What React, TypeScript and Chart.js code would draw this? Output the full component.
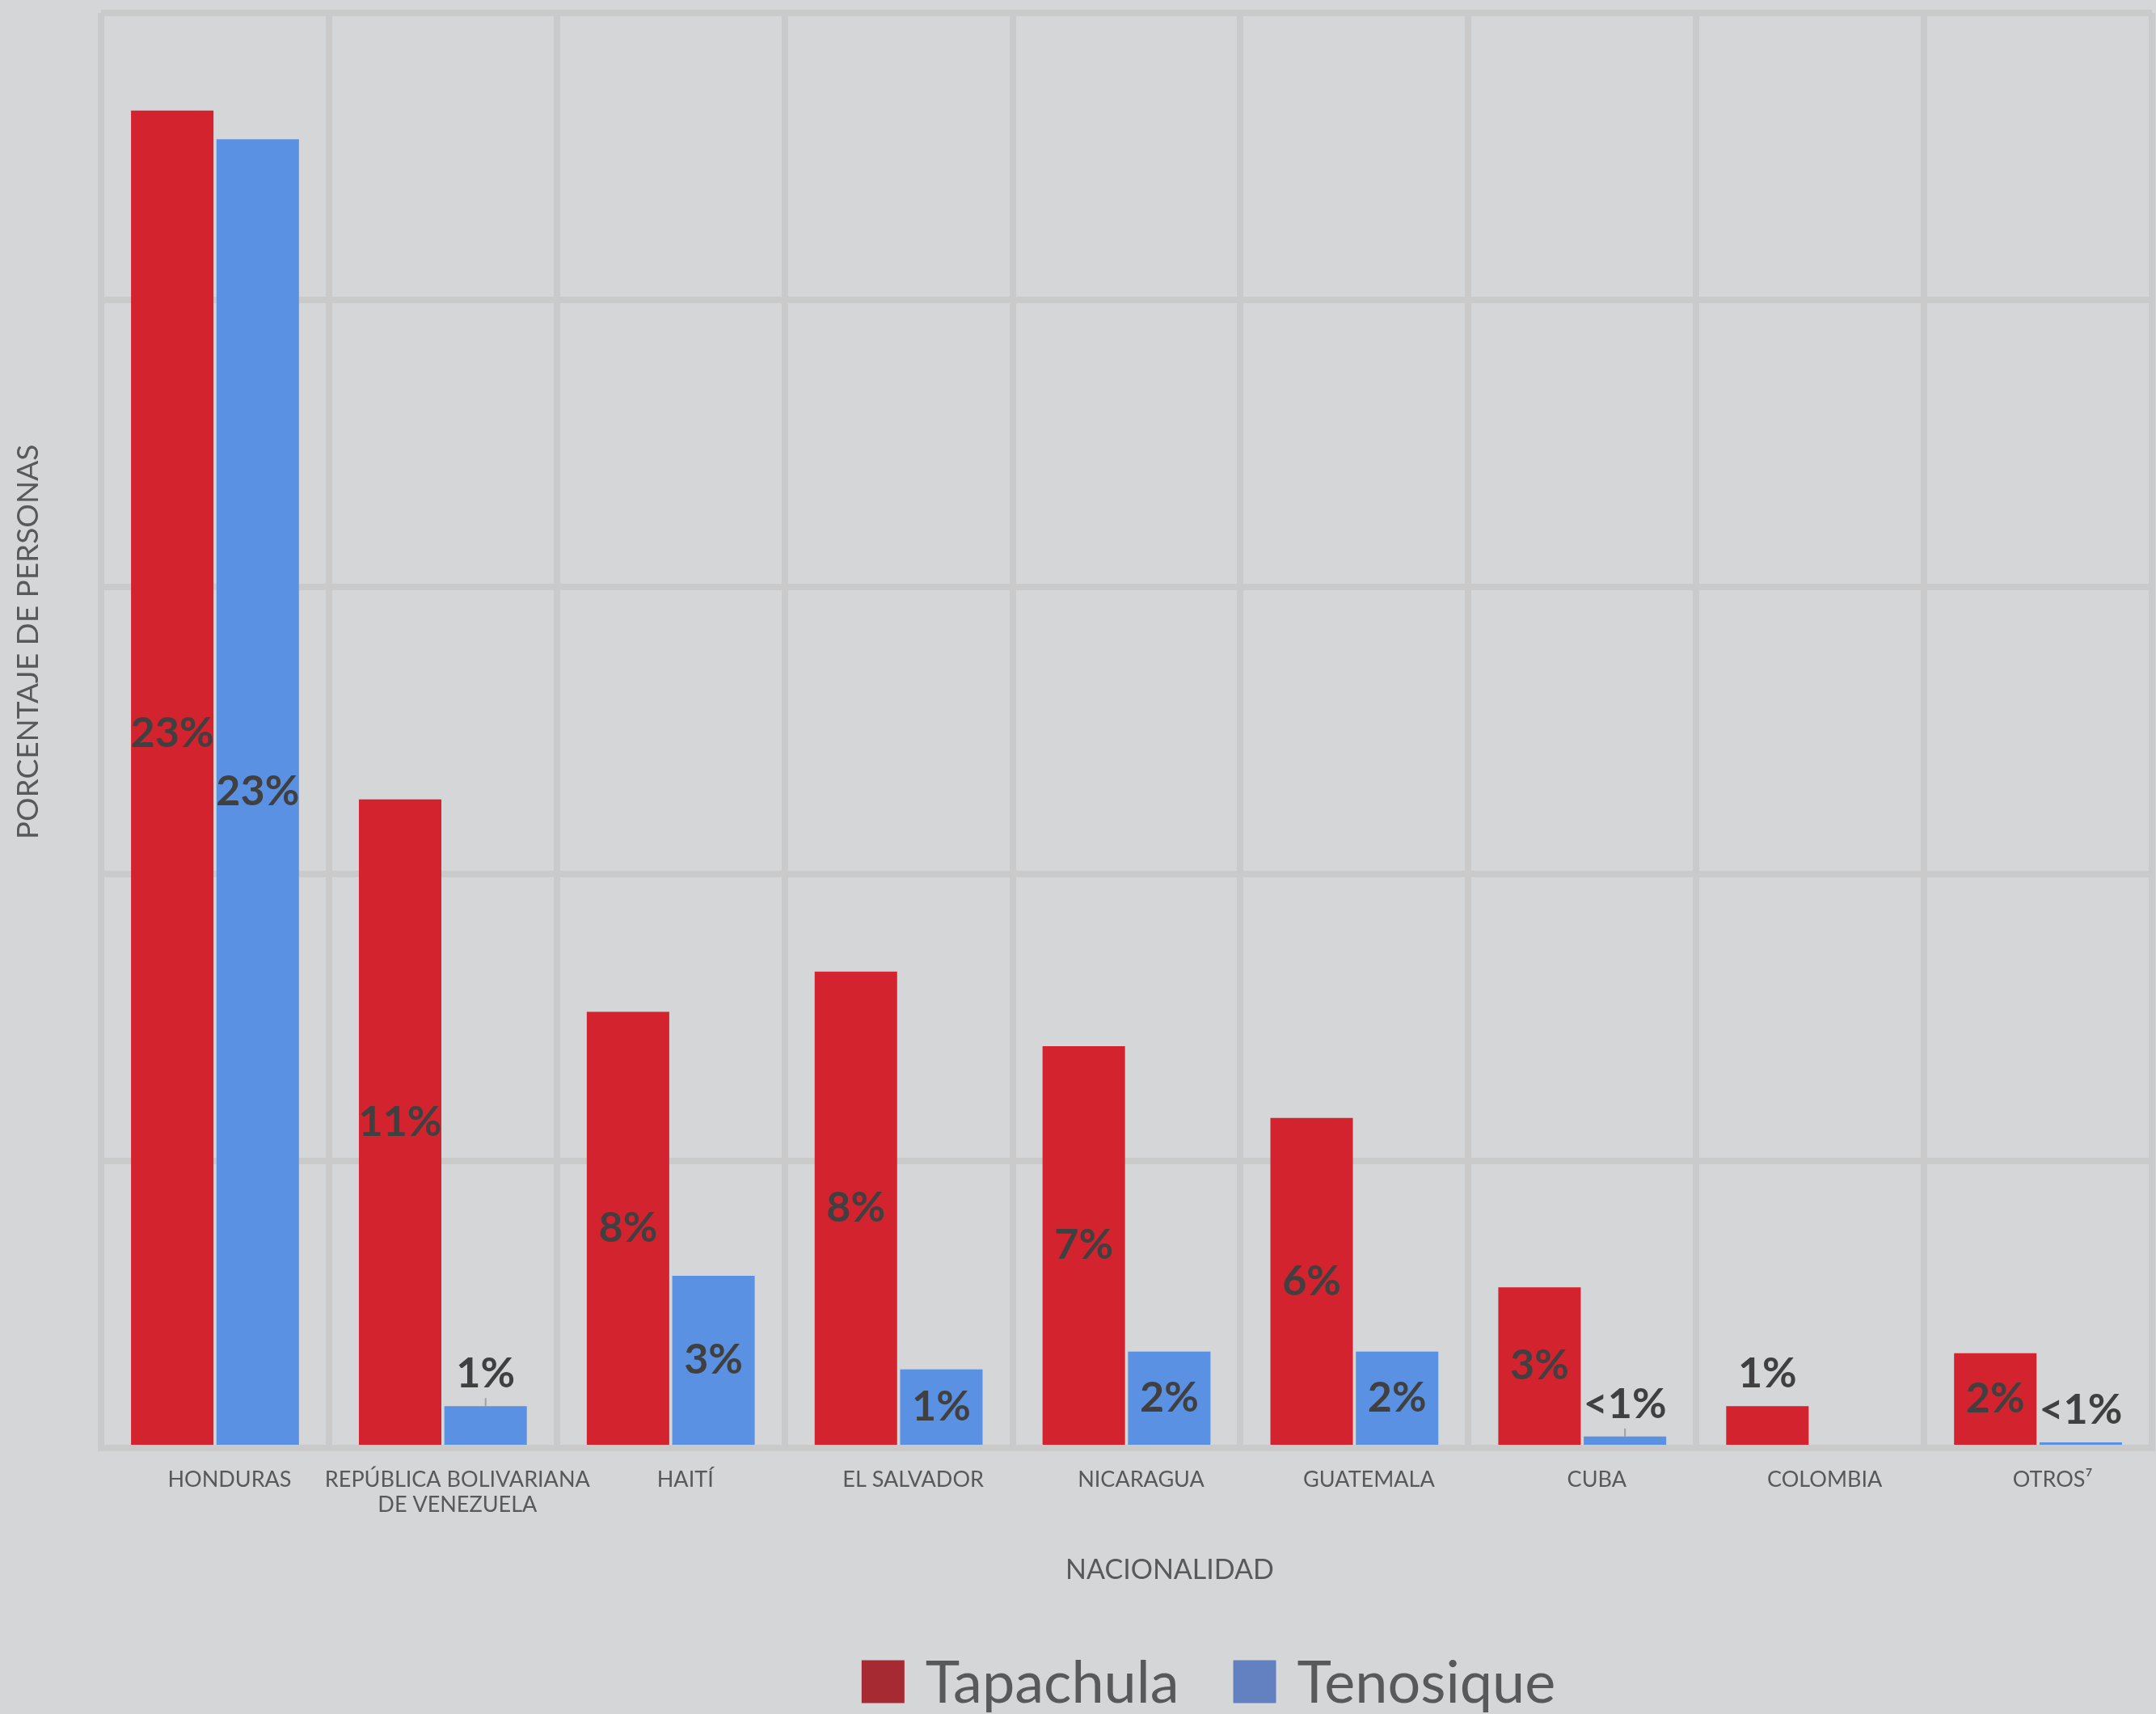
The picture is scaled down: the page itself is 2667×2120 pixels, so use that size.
import React, { useEffect, useRef } from "react";
import { Chart, registerables } from "chart.js";

Chart.register(...registerables);

// ---- data ----
const categories: (string | string[])[] = [
  "HONDURAS",
  ["REPÚBLICA BOLIVARIANA", "DE VENEZUELA"],
  "HAITÍ",
  "EL SALVADOR",
  "NICARAGUA",
  "GUATEMALA",
  "CUBA",
  "COLOMBIA",
  "OTROS⁷",
];
const seriesNames = ["Tapachula", "Tenosique"];
const tapachulaValues = [23.3, 11.3, 7.6, 8.3, 7.0, 5.75, 2.8, 0.73, 1.65];
const tenosiqueValues: (number | null)[] = [22.8, 0.73, 3.0, 1.37, 1.68, 1.68, 0.2, null, 0.1];
const tapachulaLabels = ["23%", "11%", "8%", "8%", "7%", "6%", "3%", "1%", "2%"];
const tenosiqueLabels = ["23%", "1%", "3%", "1%", "2%", "2%", "<1%", "", "<1%"];
const tapachulaPlacement = ["in", "in", "in", "in", "in", "in", "in", "out", "in"];
const tenosiquePlacement = ["in", "out", "in", "in", "in", "in", "out", "in", "out"];
const tenosiqueLeader = [false, true, false, false, false, false, true, false, false];
const tapachulaLeader = [false, false, false, false, false, false, false, false, false];
const yMin = 0;
const yMax = 25;
const yStep = 5;
const yTitle = "PORCENTAJE DE PERSONAS";
const xTitle = "NACIONALIDAD";

// ---- styles ----
const BG = "#D5D6D8";
const GRID = "#CACACA";
const RED = "#D2232F";
const BLUE = "#5B91E3";
const LEGEND_RED = "#A52A32";
const LEGEND_BLUE = "#6380C1";
const TEXT = "#595959";
const LABEL = "#404040";
const FONT = "Lato, 'Open Sans', sans-serif";
// vertical nudge (px) of individual value labels, keyed "dataset-index"
const LABEL_NUDGE: Record<string, number> = { "0-0": -55 };

const labelSets = [tapachulaLabels, tenosiqueLabels];
const placements = [tapachulaPlacement, tenosiquePlacement];
const leaders = [tapachulaLeader, tenosiqueLeader];
const legendColors = [LEGEND_RED, LEGEND_BLUE];

const barLabelPlugin = {
  id: "barLabels",
  afterDatasetsDraw(chart: any) {
    const ctx = chart.ctx;
    ctx.save();
    ctx.font = `bold 52px ${FONT}`;
    ctx.fillStyle = LABEL;
    ctx.textAlign = "center";
    ctx.textBaseline = "middle";
    chart.data.datasets.forEach((_ds: any, di: number) => {
      const meta = chart.getDatasetMeta(di);
      meta.data.forEach((bar: any, i: number) => {
        const text = labelSets[di][i];
        if (!text) return;
        const p = bar.getProps(["x", "y", "base"], true);
        let ty: number;
        if (placements[di][i] === "out") {
          ty = p.y - 40;
          if (leaders[di][i]) {
            ctx.save();
            ctx.strokeStyle = "#A0A0A0";
            ctx.lineWidth = 2;
            ctx.beginPath();
            ctx.moveTo(p.x, p.y);
            ctx.lineTo(p.x, p.y - 10);
            ctx.stroke();
            ctx.restore();
          }
        } else {
          ty = (p.y + p.base) / 2;
        }
        ty += LABEL_NUDGE[`${di}-${i}`] || 0;
        ctx.fillText(text, p.x, ty);
      });
    });
    ctx.restore();
  },
};

const decorPlugin = {
  id: "decor",
  afterDraw(chart: any) {
    const ctx = chart.ctx;
    ctx.save();
    ctx.fillStyle = TEXT;
    ctx.textAlign = "center";
    ctx.textBaseline = "middle";
    // y title
    ctx.font = `37px ${FONT}`;
    ctx.save();
    ctx.translate(35, 794);
    ctx.rotate(-Math.PI / 2);
    ctx.fillText(yTitle, 0, 0);
    ctx.restore();
    // x title
    ctx.font = `34px ${FONT}`;
    ctx.fillText(xTitle, 1447, 1942);
    // legend
    ctx.font = `72px ${FONT}`;
    ctx.textAlign = "left";
    const boxSize = 53;
    const gapBoxText = 26;
    const gapItems = 67;
    const widths = seriesNames.map((n) => ctx.measureText(n).width);
    const total =
      widths.reduce((a: number, w: number) => a + boxSize + gapBoxText + w, 0) +
      gapItems * (seriesNames.length - 1);
    let x = 1495 - total / 2;
    const cy = 2080;
    seriesNames.forEach((n, i) => {
      ctx.fillStyle = legendColors[i];
      ctx.fillRect(x, cy - boxSize / 2, boxSize, boxSize);
      x += boxSize + gapBoxText;
      ctx.fillStyle = TEXT;
      ctx.textBaseline = "alphabetic";
      ctx.fillText(n, x, cy + 26);
      x += widths[i] + gapItems;
    });
    ctx.restore();
  },
};

export default function App() {
  const ref = useRef<HTMLCanvasElement | null>(null);

  useEffect(() => {
    if (!ref.current) return;
    const chart = new Chart(ref.current, {
      type: "bar",
      data: {
        labels: categories as any,
        datasets: [
          {
            label: seriesNames[0],
            data: tapachulaValues,
            backgroundColor: RED,
            borderWidth: 0,
            categoryPercentage: 0.75,
            barPercentage: 0.965,
          },
          {
            label: seriesNames[1],
            data: tenosiqueValues,
            backgroundColor: BLUE,
            borderWidth: 0,
            categoryPercentage: 0.75,
            barPercentage: 0.965,
          },
        ],
      },
      options: {
        animation: false,
        responsive: false,
        devicePixelRatio: 1,
        layout: { padding: { left: 125, top: 16, right: 5, bottom: 229 } },
        plugins: {
          legend: { display: false },
          tooltip: { enabled: false },
          title: { display: false },
        },
        scales: {
          x: {
            z: 1,
            grid: { color: GRID, lineWidth: 8, drawTicks: false, offset: true },
            border: { display: true, color: GRID, width: 8 },
            ticks: {
              color: TEXT,
              font: { family: FONT, size: 27, lineHeight: 1.15 },
              padding: 24,
              labelOffset: 18,
              maxRotation: 0,
              minRotation: 0,
              autoSkip: false,
            },
            afterFit(scale: any) {
              scale.height = 100;
            },
          },
          y: {
            min: yMin,
            max: yMax,
            grid: { color: GRID, lineWidth: 8, drawTicks: false },
            border: { display: false },
            ticks: { display: false, stepSize: yStep },
            afterFit(scale: any) {
              scale.width = 0;
            },
          },
        },
      },
      plugins: [barLabelPlugin, decorPlugin],
    });
    return () => chart.destroy();
  }, []);

  return (
    <div
      style={{
        position: "absolute",
        left: 0,
        top: 0,
        width: 2667,
        height: 2120,
        background: BG,
      }}
    >
      <canvas ref={ref} width={2667} height={2120} style={{ display: "block" }} />
    </div>
  );
}
